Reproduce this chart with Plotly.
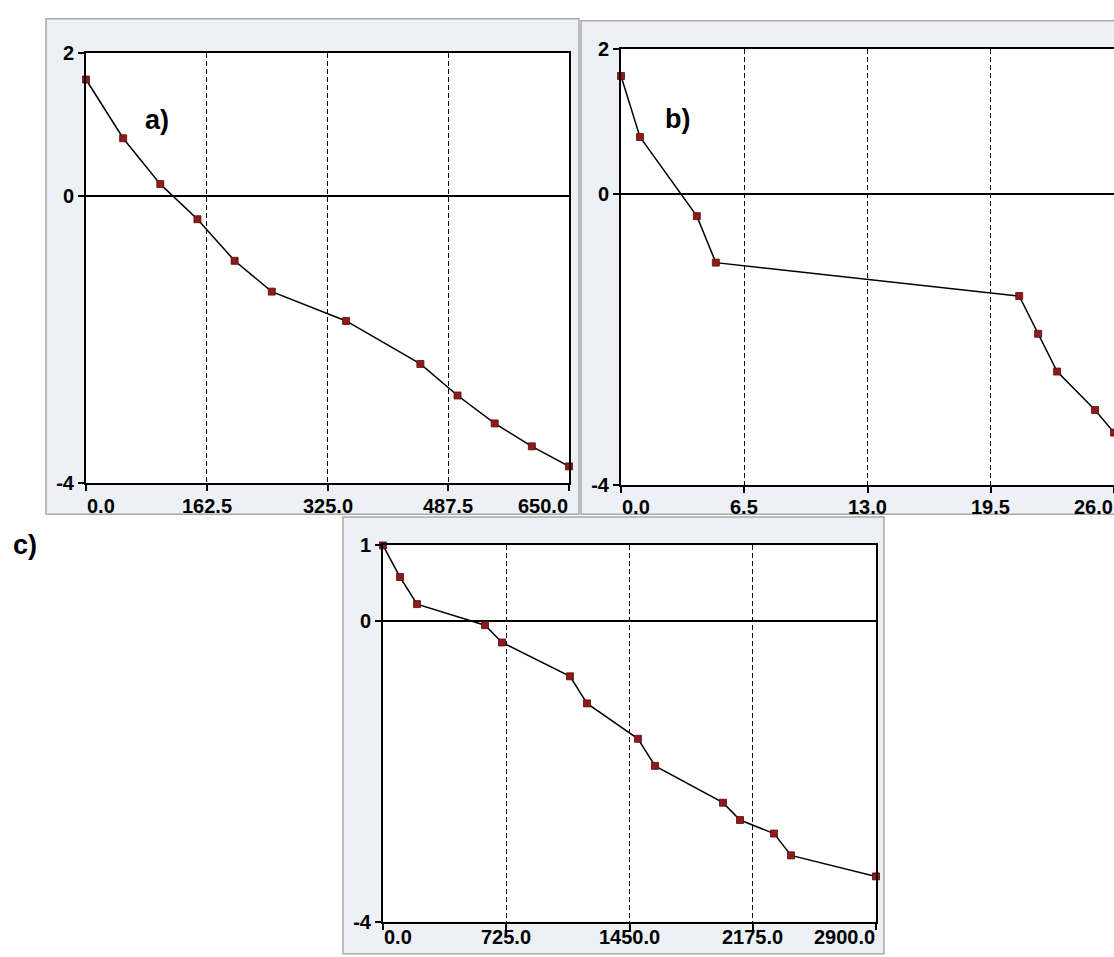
import plotly.graph_objects as go

W, H = 1114, 957

# ---- data ----
a_x = [0, 50, 100, 150, 200, 250, 350, 450, 500, 550, 600, 650]
a_y = [1.63, 0.81, 0.17, -0.32, -0.90, -1.33, -1.74, -2.34, -2.78, -3.17, -3.49, -3.77]

b_x = [0, 1, 4, 5, 21, 22, 23, 25, 26]
b_y = [1.63, 0.79, -0.30, -0.94, -1.40, -1.92, -2.44, -2.97, -3.28]

c_x = [0, 100, 200, 600, 700, 1100, 1200, 1500, 1600, 2000, 2100, 2300, 2400, 2900]
c_y = [1.0, 0.58, 0.22, -0.06, -0.29, -0.74, -1.10, -1.57, -1.93, -2.42, -2.65, -2.83, -3.12, -3.40]

a_xticks = [0, 162.5, 325, 487.5, 650]
b_xticks = [0, 6.5, 13, 19.5, 26]
c_xticks = [0, 725, 1450, 2175, 2900]
ab_yticks = [-4, 0, 2]
c_yticks = [-4, 0, 1]

panel_labels = ["a)", "b)", "c)"]

FONT = "Liberation Sans, Arial, DejaVu Sans, sans-serif"
TICK_SIZE = 20


def px_x(p):
    return p / W


def px_y(p):
    return 1 - p / H


fig = go.Figure()

series = [(a_x, a_y, "x", "y"), (b_x, b_y, "x2", "y2"), (c_x, c_y, "x3", "y3")]
for xs, ys, xa, ya in series:
    fig.add_trace(go.Scatter(
        x=xs, y=ys, xaxis=xa, yaxis=ya, mode="lines+markers",
        line=dict(color="black", width=1.5),
        marker=dict(symbol="square", size=7, color="#8E1B1B",
                    line=dict(color="#5A0A0A", width=0.8)),
        cliponaxis=False, showlegend=False, hoverinfo="skip",
    ))


def xaxis_cfg(domain, ticks, rng, anchor):
    return dict(domain=domain, range=rng, anchor=anchor, tickvals=ticks,
                showticklabels=False, ticks="outside", ticklen=6, tickwidth=1.5,
                tickcolor="black", showline=True, linecolor="black", linewidth=2,
                mirror=True, showgrid=True, gridcolor="black", gridwidth=1.2,
                griddash="5px,3px", zeroline=False, fixedrange=True)


def yaxis_cfg(domain, ticks, rng, anchor, mirror=True):
    return dict(domain=domain, range=rng, anchor=anchor, tickvals=ticks,
                ticktext=[str(t) for t in ticks],
                tickfont=dict(family=FONT, size=TICK_SIZE, color="black", weight="bold"),
                ticks="outside", ticklen=6, tickwidth=1.5, tickcolor="black",
                showline=True, linecolor="black", linewidth=2, mirror=mirror,
                showgrid=False, zeroline=True, zerolinecolor="black",
                zerolinewidth=1.8, fixedrange=True)


layout = dict(
    width=W, height=H, margin=dict(l=0, r=0, t=0, b=0),
    paper_bgcolor="white", plot_bgcolor="white",
    xaxis=xaxis_cfg([px_x(86), px_x(569)], a_xticks, [0, 650], "y"),
    yaxis=yaxis_cfg([px_y(483), px_y(43)], ab_yticks, [-4, 2], "x"),
    xaxis2=xaxis_cfg([px_x(621), 1.0], b_xticks, [0, 26], "y2"),
    yaxis2=yaxis_cfg([px_y(485), px_y(39)], ab_yticks, [-4, 2], "x2", mirror=False),
    xaxis3=xaxis_cfg([px_x(383), px_x(876)], c_xticks, [0, 2900], "y3"),
    yaxis3=yaxis_cfg([px_y(932), px_y(547)], c_yticks, [-4, 1], "x3"),
)

# panel frames (grey windows) and white plotting areas
frames = [(46, 8, 579, 515), (581, 10, 1120, 515), (343, 518, 884, 965)]
shapes = []
for x0, y0, x1, y1 in frames:
    shapes.append(dict(type="rect", xref="paper", yref="paper",
                       x0=px_x(x0), x1=px_x(x1), y0=px_y(y1), y1=px_y(y0),
                       fillcolor="#EDF0F4", line=dict(color="#A9A9A9", width=1.5),
                       layer="below"))
for xa, ya in [("x", "y"), ("x2", "y2"), ("x3", "y3")]:
    shapes.append(dict(type="rect", xref=xa + " domain", yref=ya + " domain",
                       x0=0, x1=1, y0=0, y1=1, fillcolor="white",
                       line=dict(width=0), layer="below"))
layout["shapes"] = shapes

annotations = []
for ticks, xa, ya, shift in [(a_xticks, "x", "y", -23), (b_xticks, "x2", "y2", -22),
                             (c_xticks, "x3", "y3", -15)]:
    for i, t in enumerate(ticks):
        if i == 0:
            anchor = "left"
        elif i == len(ticks) - 1:
            anchor = "right"
        else:
            anchor = "center"
        annotations.append(dict(
            x=t, xref=xa, y=0, yref=ya + " domain", xanchor=anchor, yanchor="middle",
            yshift=shift, text=f"{t:.1f}", showarrow=False, borderpad=0,
            font=dict(family=FONT, size=TICK_SIZE, color="black", weight="bold"),
        ))

label_pos = [(157, 112), (678, 111), (25, 547)]
for lab, (lx, ly) in zip(panel_labels, label_pos):
    annotations.append(dict(
        x=px_x(lx), y=px_y(ly), xref="paper", yref="paper", xanchor="center",
        yanchor="middle", text=lab, showarrow=False,
        font=dict(family=FONT, size=27, color="black", weight="bold"),
    ))
layout["annotations"] = annotations

fig.update_layout(**layout)
fig.write_html(
    "out.html",
    config={"displayModeBar": False},
    post_script=("document.body.style.margin='0';"
                 "document.body.style.overflow='hidden';"
                 "document.documentElement.style.overflow='hidden';"),
)
